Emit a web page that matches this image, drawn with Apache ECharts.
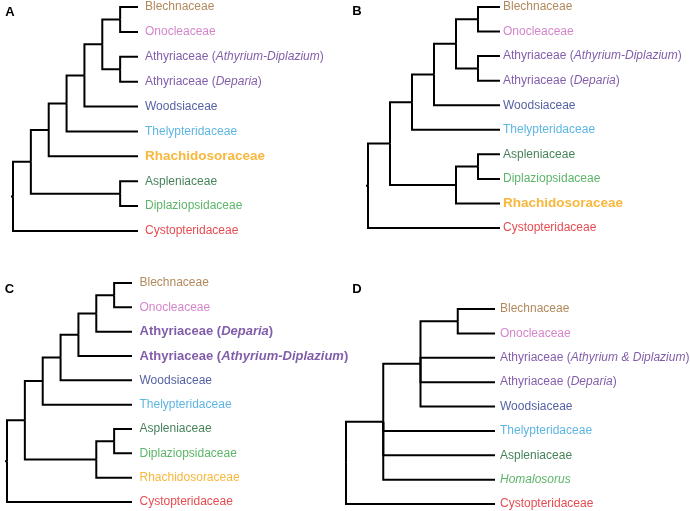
<!DOCTYPE html>
<html><head><meta charset="utf-8">
<script src="https://cdn.jsdelivr.net/npm/echarts@6/dist/echarts.min.js"></script>
<style>html,body{margin:0;padding:0;background:#fff}#c{width:690px;height:511px}</style>
</head><body><div id="c"></div>
<script>
// ---- data ----
const panelLetters = ['A', 'B', 'C', 'D'];
// leaf names; *...* marks italic text
const leavesA = ['Blechnaceae', 'Onocleaceae', 'Athyriaceae (*Athyrium-Diplazium*)', 'Athyriaceae (*Deparia*)', 'Woodsiaceae', 'Thelypteridaceae', 'Rhachidosoraceae', 'Aspleniaceae', 'Diplaziopsidaceae', 'Cystopteridaceae'];
const leavesB = ['Blechnaceae', 'Onocleaceae', 'Athyriaceae (*Athyrium-Diplazium*)', 'Athyriaceae (*Deparia*)', 'Woodsiaceae', 'Thelypteridaceae', 'Aspleniaceae', 'Diplaziopsidaceae', 'Rhachidosoraceae', 'Cystopteridaceae'];
const leavesC = ['Blechnaceae', 'Onocleaceae', 'Athyriaceae (*Deparia*)', 'Athyriaceae (*Athyrium-Diplazium*)', 'Woodsiaceae', 'Thelypteridaceae', 'Aspleniaceae', 'Diplaziopsidaceae', 'Rhachidosoraceae', 'Cystopteridaceae'];
const leavesD = ['Blechnaceae', 'Onocleaceae', 'Athyriaceae (*Athyrium & Diplazium*)', 'Athyriaceae (*Deparia*)', 'Woodsiaceae', 'Thelypteridaceae', 'Aspleniaceae', '*Homalosorus*', 'Cystopteridaceae'];
// topologies: [nodeDepth, child, child, ...]; numbers = leaf indices
const treeA = [0, [1, [2, [3, [4, [5, [6, 0, 1], [6, 2, 3]], 4], 5], 6], [6, 7, 8]], 9];
const treeB = [0, [1, [2, [3, [4, [5, 0, 1], [5, 2, 3]], 4], 5], [4, [5, 6, 7], 8]], 9];
const treeC = [0, [1, [2, [3, [4, [5, [6, 0, 1], 2], 3], 4], 5], [5, [6, 6, 7], 8]], 9];
const treeD = [0, [1, [2, [3, 0, 1], 2, 3, 4], 5, 6, 7], 8];
const leafDepths = [7, 6, 7, 4];
// highlighted (bold) leaves per panel
const boldA = [6], boldB = [8], boldC = [2, 3], boldD = [];

// ---- styles ----
const familyColors = {
  Blechnaceae: '#9e6b33', Onocleaceae: '#c966bd', Athyriaceae: '#623494',
  Woodsiaceae: '#28378b', Thelypteridaceae: '#33a2db', Rhachidosoraceae: '#f6a50c',
  Aspleniaceae: '#176331', Diplaziopsidaceae: '#33a343', Homalosorus: '#33a343',
  Cystopteridaceae: '#e01b22'
};
const FONT = '"Liberation Sans", Arial, Helvetica, sans-serif';
const layout = [
  { left: 13, top: 7, width: 125, height: 224, gap: 7, boldSize: 13.5, letter: [10, 12] },
  { left: 368, top: 7, width: 132, height: 221, gap: 3, boldSize: 13.5, letter: [357, 11] },
  { left: 7, top: 283, width: 125, height: 219, gap: 7.5, boldSize: 13, letter: [9.5, 289] },
  { left: 346, top: 309, width: 149, height: 195, gap: 5, boldSize: 13, letter: [357, 289] }
];
const stubPx = [2, 2, 2, 1];

const panels = [
  { leaves: leavesA, tree: treeA, bold: boldA },
  { leaves: leavesB, tree: treeB, bold: boldB },
  { leaves: leavesC, tree: treeC, bold: boldC },
  { leaves: leavesD, tree: treeD, bold: boldD }
];

function buildEdges(tree, leafDepth) {
  const edges = [];
  function walk(node) {
    if (typeof node === 'number') return { x: leafDepth, y: node };
    const d = node[0];
    const kids = node.slice(1).map(walk);
    const ys = kids.map(k => k.y);
    const y = (Math.min(...ys) + Math.max(...ys)) / 2;
    kids.forEach(k => edges.push([d, y, k.y, k.x]));
    return { x: d, y: y };
  }
  const root = walk(tree);
  return { edges, root };
}

function richLabel(name, color, bold, size) {
  const parts = name.split('*');
  let s = '';
  parts.forEach((p, i) => { if (p) s += '{' + (i % 2 ? 'i' : 'n') + '|' + p + '}'; });
  const base = { color: color, fontSize: size, fontWeight: bold ? 'bold' : 'normal', fontFamily: FONT, lineHeight: size + 2 };
  return { formatter: s, rich: { n: base, i: Object.assign({}, base, { fontStyle: 'italic' }) } };
}

const grid = [], xAxis = [], yAxis = [], series = [], graphic = [];
panels.forEach((p, idx) => {
  const L = layout[idx];
  const ld = leafDepths[idx];
  grid.push({ left: L.left, top: L.top, width: L.width, height: L.height });
  xAxis.push({ gridIndex: idx, type: 'value', min: 0, max: ld, show: false });
  yAxis.push({ gridIndex: idx, type: 'value', min: 0, max: p.leaves.length - 1, inverse: true, show: false });
  const { edges, root } = buildEdges(p.tree, ld);
  const stub = stubPx[idx] * ld / L.width;
  edges.push([-stub, root.y, root.y, 0]);
  series.push({
    type: 'custom', xAxisIndex: idx, yAxisIndex: idx, silent: true, clip: false,
    data: edges,
    renderItem: function (params, api) {
      const p0 = api.coord([api.value(0), api.value(1)]);
      const p1 = api.coord([api.value(0), api.value(2)]);
      const p2 = api.coord([api.value(3), api.value(2)]);
      return { type: 'polyline', shape: { points: [p0, p1, p2] },
        style: { stroke: '#000', lineWidth: 2, fill: null, lineJoin: 'miter', lineCap: 'butt' } };
    }
  });
  series.push({
    type: 'scatter', xAxisIndex: idx, yAxisIndex: idx, symbolSize: 0, silent: true,
    data: p.leaves.map((name, i) => {
      const fam = name.replace(/\*/g, '').split(' ')[0];
      const bold = p.bold.indexOf(i) >= 0;
      const lab = richLabel(name, familyColors[fam], bold, bold ? L.boldSize : 12);
      return { value: [ld, i], label: Object.assign({ show: true, position: 'right', distance: L.gap }, lab) };
    })
  });
  graphic.push({ type: 'text', x: L.letter[0], y: L.letter[1],
    style: { text: panelLetters[idx], font: 'bold 13px ' + FONT, fill: '#000', align: 'center', verticalAlign: 'middle' } });
});

const chart = echarts.init(document.getElementById('c'), null, { renderer: 'canvas' });
chart.setOption({ animation: false, backgroundColor: '#fff', grid, xAxis, yAxis, series, graphic });
</script>
</body></html>
